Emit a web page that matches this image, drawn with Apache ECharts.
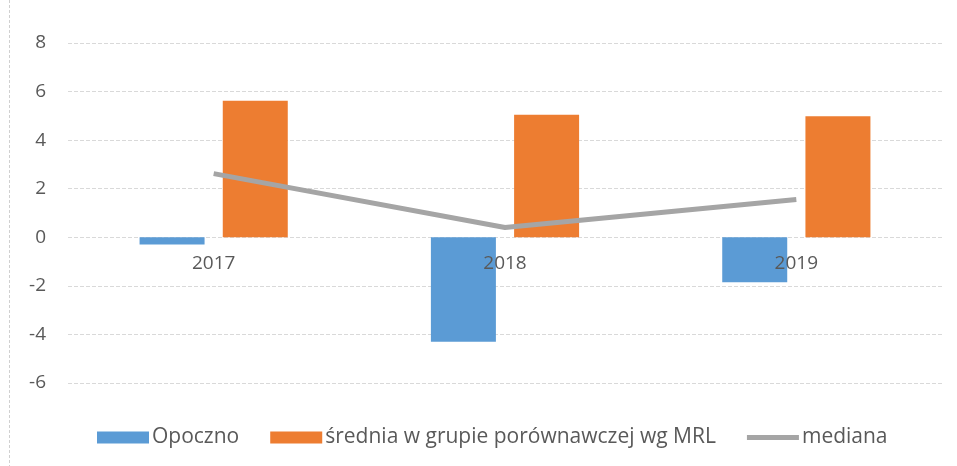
<!DOCTYPE html>
<html>
<head>
<meta charset="utf-8">
<script src="https://cdn.jsdelivr.net/npm/echarts@6/dist/echarts.min.js"></script>
<style>html,body{margin:0;padding:0;background:#fff;}#c{width:957px;height:466px;}</style>
</head>
<body>
<div id="c"></div>
<script>
var categories = ['2017', '2018', '2019'];
var opoczno = [-0.3, -4.3, -1.85];
var srednia = [5.62, 5.05, 4.98];
var mediana = [2.62, 0.4, 1.56];
var yTicks = [-6, -4, -2, 0, 2, 4, 6, 8];

var FONT = 'Open Sans';
var TXT = '#595959';
var chart = echarts.init(document.getElementById('c'), null, {renderer: 'canvas'});
chart.setOption({
  animation: false,
  textStyle: {fontFamily: FONT},
  graphic: [{
    type: 'line', shape: {x1: 9.5, y1: 0, x2: 9.5, y2: 466},
    style: {stroke: '#d0d0d0', lineWidth: 1, lineDash: [3, 2]}
  }],
  grid: {left: 68, right: 15, top: 43, bottom: 83, containLabel: false},
  legend: {
    left: 92, top: 422,
    itemWidth: 52, itemHeight: 12, itemGap: 31,
    textStyle: {fontFamily: FONT, fontSize: 21, color: TXT, padding: [0, 0, 0, -2]},
    data: [
      {name: 'Opoczno', icon: 'rect'},
      {name: 'średnia w grupie porównawczej wg MRL', icon: 'rect'},
      {name: 'mediana', icon: 'path://M0,0 L52,0 L52,5 L0,5 Z'}
    ]
  },
  xAxis: {
    type: 'category', data: categories,
    offset: -146, z: 10,
    axisLine: {show: false, onZero: false},
    axisTick: {show: false},
    axisLabel: {fontFamily: FONT, fontSize: 19, color: TXT, margin: 17}
  },
  yAxis: {
    type: 'value', min: yTicks[0], max: yTicks[yTicks.length - 1], interval: 2,
    axisLine: {show: false}, axisTick: {show: false},
    axisLabel: {fontFamily: FONT, fontSize: 19, color: TXT, margin: 22},
    splitLine: {lineStyle: {color: '#d9d9d9', type: [4, 2]}}
  },
  series: [
    {name: 'Opoczno', type: 'bar', data: opoczno, barWidth: 65, barGap: '28%',
     itemStyle: {color: '#5B9BD5'}},
    {name: 'średnia w grupie porównawczej wg MRL', type: 'bar', data: srednia, barWidth: 65,
     itemStyle: {color: '#ED7D31'}},
    {name: 'mediana', type: 'line', data: mediana, symbol: 'none', z: 5,
     lineStyle: {color: '#A5A5A5', width: 5}, itemStyle: {color: '#A5A5A5'}}
  ]
});
</script>
</body>
</html>
